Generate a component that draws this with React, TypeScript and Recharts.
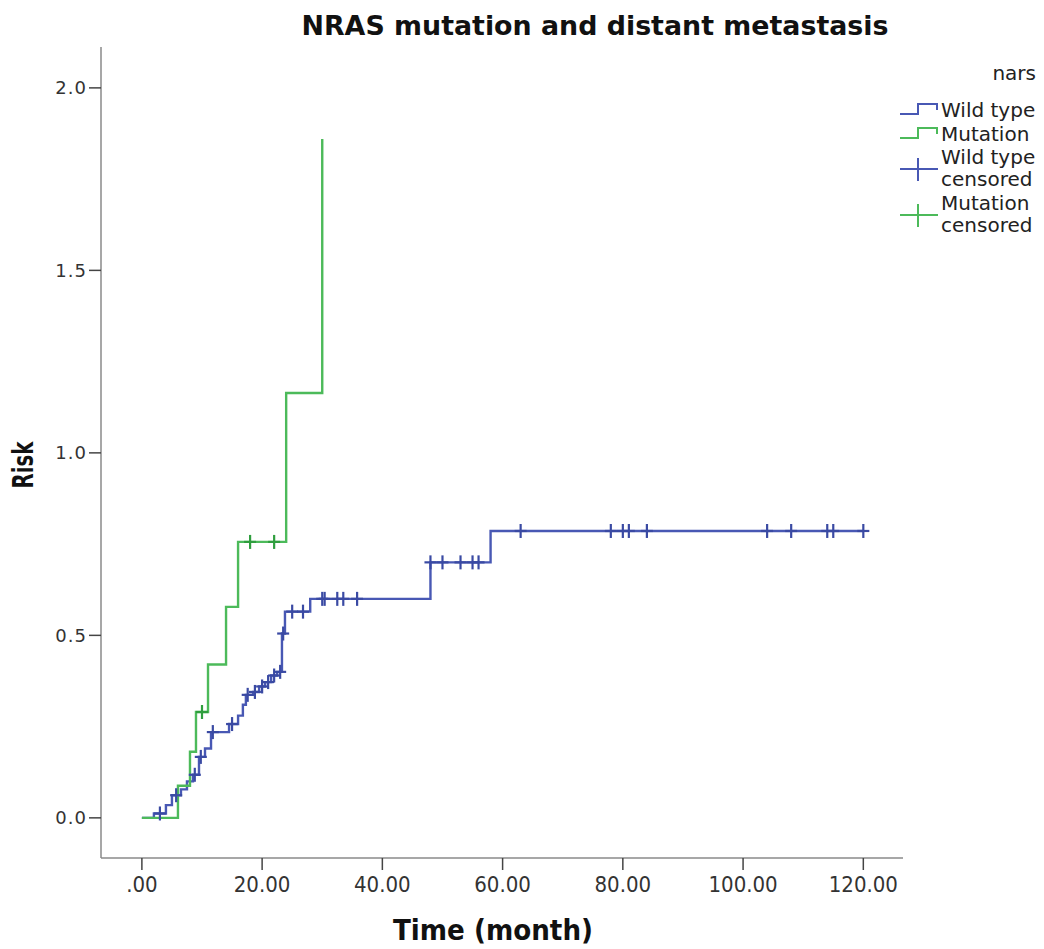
import React from "react";
import { ComposedChart, Line, Scatter, XAxis, YAxis } from "recharts";

// Wild type cumulative risk steps
const wildTime = [0, 2, 4, 5, 6.5, 7.5, 8.5, 9.5, 10.5, 11.5, 14.5, 16, 16.8, 17.3, 18.5, 19.5, 20.5, 21.5, 22.5, 23.3, 23.8, 28, 48, 58, 120];
const wildRisk = [0, 0.012, 0.035, 0.062, 0.078, 0.1, 0.118, 0.167, 0.19, 0.235, 0.257, 0.28, 0.31, 0.337, 0.345, 0.36, 0.372, 0.39, 0.4, 0.505, 0.565, 0.6, 0.7, 0.786, 0.786];

// Mutation cumulative risk steps
const mutTime = [0, 6, 8, 9, 11, 14, 16, 24, 30];
const mutRisk = [0, 0.088, 0.181, 0.29, 0.42, 0.578, 0.756, 1.164, 1.86];

// Censored observations
const wildCensTime = [3, 5.7, 8.8, 9.8, 11.8, 15, 17.6, 18.8, 20, 21, 22, 23, 23.5, 25, 26.8, 30, 30.4, 32.5, 33.5, 35.8, 48, 50, 53, 55, 56, 63, 78, 80, 81, 84, 104, 108, 114, 115, 120];
const mutCensTime = [10, 18, 22];

const xTicks = [0, 20, 40, 60, 80, 100, 120];
const yTicks = [0, 0.5, 1.0, 1.5, 2.0];

const BLUE = "#4858b4";
const GREEN = "#4cba5a";
const AXIS = "#8a8a8a";

function stepValue(times: number[], vals: number[], t: number) {
  let v = vals[0];
  for (let i = 0; i < times.length; i++) if (times[i] <= t) v = vals[i];
  return v;
}

const wildData = wildTime.map((t, i) => ({ t, v: wildRisk[i] }));
const mutData = mutTime.map((t, i) => ({ t, v: mutRisk[i] }));
const wildCens = wildCensTime.map((t) => ({ t, v: stepValue(wildTime, wildRisk, t) }));
const mutCens = mutCensTime.map((t) => ({ t, v: stepValue(mutTime, mutRisk, t) }));

const makeCross = (color: string) => (props: any) => {
  const { cx, cy } = props;
  if (cx == null || cy == null) return <g />;
  return (
    <g>
      <line x1={cx} x2={cx} y1={cy - 7} y2={cy + 7} stroke={color} strokeWidth={2.2} />
      <line x1={cx - 6} x2={cx + 6} y1={cy} y2={cy} stroke={color} strokeWidth={2.2} />
    </g>
  );
};

const fmtX = (v: number) => (v === 0 ? ".00" : v.toFixed(2));
const fmtY = (v: number) => v.toFixed(1);

export default function App() {
  return (
    <div style={{ position: "absolute", left: 0, top: 0, width: 1044, height: 949, background: "#fff" }}>
      <ComposedChart width={1044} height={949} margin={{ top: 47, right: 141, bottom: 0, left: 0 }}>
        <XAxis
          type="number"
          dataKey="t"
          domain={[-6.8, 126.6]}
          allowDataOverflow
          ticks={xTicks}
          tickFormatter={fmtX}
          height={91}
          tickSize={12}
          tickMargin={6}
          axisLine={{ stroke: AXIS, strokeWidth: 1.5 }}
          tickLine={{ stroke: "#444", strokeWidth: 1.5 }}
          tick={{ fontSize: 22, fontFamily: "DejaVu Sans Condensed", fill: "#333" }}
        />
        <YAxis
          type="number"
          dataKey="v"
          domain={[-0.11, 2.112]}
          allowDataOverflow
          ticks={yTicks}
          tickFormatter={fmtY}
          width={101}
          tickSize={12}
          tickMargin={2}
          axisLine={{ stroke: AXIS, strokeWidth: 1.5 }}
          tickLine={{ stroke: "#444", strokeWidth: 1.5 }}
          tick={{ fontSize: 18, fontFamily: "DejaVu Sans", fill: "#333", letterSpacing: 1 }}
        />
        <Line data={wildData} dataKey="v" type="stepAfter" stroke={BLUE} strokeWidth={2.4} dot={false} isAnimationActive={false} />
        <Line data={mutData} dataKey="v" type="stepAfter" stroke={GREEN} strokeWidth={2.4} dot={false} isAnimationActive={false} />
        <Scatter data={wildCens} dataKey="v" shape={makeCross("#3a4aa3")} isAnimationActive={false} />
        <Scatter data={mutCens} dataKey="v" shape={makeCross("#2f9e3e")} isAnimationActive={false} />
      </ComposedChart>
      <svg width={1044} height={949} style={{ position: "absolute", left: 0, top: 0, pointerEvents: "none" }}>
        <text x={595} y={35} textAnchor="middle" fontFamily="DejaVu Sans" fontWeight="bold" fontSize={27} fill="#111" textLength={587} lengthAdjust="spacingAndGlyphs">
          NRAS mutation and distant metastasis
        </text>
        <text x={493} y={940} textAnchor="middle" fontFamily="DejaVu Sans Condensed" fontWeight="bold" fontSize={28} fill="#111" textLength={200} lengthAdjust="spacingAndGlyphs">
          Time  (month)
        </text>
        <text x={0} y={0} transform="translate(33,465) rotate(-90)" textAnchor="middle" fontFamily="DejaVu Sans Condensed" fontWeight="bold" fontSize={28} fill="#111" textLength={47} lengthAdjust="spacingAndGlyphs">
          Risk
        </text>
        {/* Legend */}
        <g fontFamily="DejaVu Sans" fontSize={20} fill="#222">
          <text x={1036} y={80} textAnchor="end">nars</text>
          <path d="M900,114 H918 V104 H937 V110" stroke={BLUE} strokeWidth={2} fill="none" />
          <text x={941} y={117}>Wild type</text>
          <path d="M900,138 H918 V128 H937 V134" stroke={GREEN} strokeWidth={2} fill="none" />
          <text x={941} y={141}>Mutation</text>
          <line x1={900} x2={938} y1={169} y2={169} stroke={BLUE} strokeWidth={2} />
          <line x1={918} x2={918} y1={158} y2={181} stroke={BLUE} strokeWidth={2} />
          <text x={941} y={164}>Wild type</text>
          <text x={941} y={186}>censored</text>
          <line x1={900} x2={938} y1={215} y2={215} stroke={GREEN} strokeWidth={2} />
          <line x1={918} x2={918} y1={204} y2={227} stroke={GREEN} strokeWidth={2} />
          <text x={941} y={210}>Mutation</text>
          <text x={941} y={232}>censored</text>
        </g>
      </svg>
    </div>
  );
}
